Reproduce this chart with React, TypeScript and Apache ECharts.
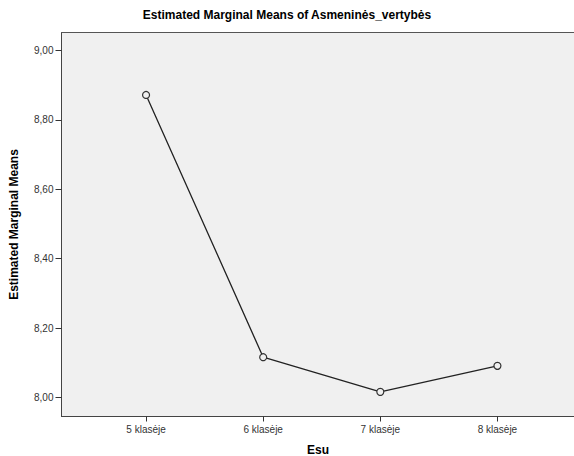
import React, { useEffect, useRef } from "react";
import * as echarts from "echarts";

const categories = ["5 klasėje", "6 klasėje", "7 klasėje", "8 klasėje"];
const means = [8.872, 8.116, 8.016, 8.091];
const yTicks = [8.0, 8.2, 8.4, 8.6, 8.8, 9.0];

export default function App() {
  const ref = useRef<HTMLDivElement>(null);
  useEffect(() => {
    if (!ref.current) return;
    const chart = echarts.init(ref.current, null, { renderer: "svg" });
    const font = "'Liberation Sans', Arial, sans-serif";
    const xMin = 0.278;
    const xMax = 4.658;
    chart.setOption({
      animation: false,
      backgroundColor: "#ffffff",
      title: {
        text: "Estimated Marginal Means of Asmeninės_vertybės",
        left: "center",
        top: 4,
        textStyle: { fontFamily: font, fontSize: 12, fontWeight: "bold", color: "#000" },
      },
      grid: {
        left: 61.5,
        top: 32.5,
        width: 513,
        height: 384,
        outerBoundsMode: "none",
        containLabel: false,
        show: true,
        backgroundColor: "#f0f0f0",
        borderWidth: 0,
      },
      xAxis: [
        {
          type: "value",
          min: xMin,
          max: xMax,
          name: "Esu",
          nameLocation: "middle",
          nameGap: 27,
          nameTextStyle: { fontFamily: font, fontSize: 12, fontWeight: "bold", color: "#000" },
          splitLine: { show: false },
          axisLine: { show: true, lineStyle: { color: "#444", width: 1 } },
          axisTick: { show: true, length: 5, customValues: categories.map((_, i) => i + 1), lineStyle: { color: "#333" } },
          axisLabel: {
            customValues: categories.map((_, i) => i + 1),
            formatter: (v: number) => categories[Math.round(v) - 1] ?? "",
            fontFamily: font,
            fontSize: 10,
            color: "#333",
            margin: 8,
          },
        },
        {
          type: "value",
          position: "top",
          min: xMin,
          max: xMax,
          splitLine: { show: false },
          axisLine: { show: true, lineStyle: { color: "#555", width: 1 } },
          axisTick: { show: false },
          axisLabel: { show: false },
        },
      ],
      yAxis: {
        type: "value",
        min: 7.945,
        max: 9.052,
        name: "Estimated Marginal Means",
        nameLocation: "middle",
        nameGap: 42,
        nameTextStyle: { fontFamily: font, fontSize: 12, fontWeight: "bold", color: "#000" },
        splitLine: { show: false },
        axisLine: { show: true, lineStyle: { color: "#444", width: 1 } },
        axisTick: { show: true, length: 6, customValues: yTicks, lineStyle: { color: "#333" } },
        axisLabel: {
          customValues: yTicks,
          formatter: (v: number) => v.toFixed(2).replace(".", ","),
          fontFamily: font,
          fontSize: 10,
          color: "#333",
          margin: 8,
        },
      },
      series: [
        {
          type: "line",
          xAxisIndex: 0,
          data: means.map((m, i) => [i + 1, m]),
          symbol: "circle",
          symbolSize: 7,
          itemStyle: { color: "#f0f0f0", borderColor: "#333", borderWidth: 1.2 },
          lineStyle: { color: "#222", width: 1.3 },
        },
      ],
    });
    return () => chart.dispose();
  }, []);
  return <div ref={ref} style={{ width: 574, height: 456, position: "absolute", left: 0, top: 0 }} />;
}
